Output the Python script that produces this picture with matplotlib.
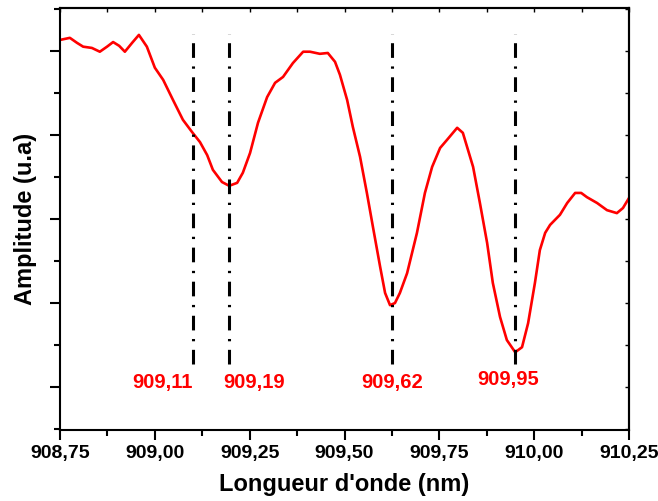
import matplotlib
matplotlib.use("Agg")
import matplotlib.pyplot as plt
from matplotlib.ticker import MultipleLocator, FuncFormatter

plt.rcParams['font.family'] = ['Liberation Sans', 'DejaVu Sans']
plt.rcParams['font.weight'] = 'bold'

# spectrum (wavelength nm, amplitude a.u.)
wavelength = [908.750, 908.776, 908.795, 908.811, 908.834, 908.855, 908.874, 908.890,
              908.906, 908.921, 908.940, 908.958, 908.979, 909.000, 909.022, 909.048,
              909.074, 909.098, 909.119, 909.138, 909.153, 909.177, 909.196, 909.217,
              909.232, 909.251, 909.272, 909.296, 909.317, 909.338, 909.364, 909.391,
              909.409, 909.435, 909.456, 909.475, 909.488, 909.507, 909.522, 909.541,
              909.559, 909.575, 909.594, 909.607, 909.620, 909.633, 909.646, 909.665,
              909.691, 909.712, 909.731, 909.752, 909.770, 909.797, 909.812, 909.839,
              909.857, 909.876, 909.891, 909.910, 909.928, 909.950, 909.968, 909.984,
              910.002, 910.015, 910.029, 910.042, 910.068, 910.087, 910.108, 910.124,
              910.139, 910.166, 910.192, 910.218, 910.234, 910.250]
amplitude = [0.826, 0.831, 0.819, 0.810, 0.807, 0.798, 0.810, 0.821,
             0.812, 0.798, 0.819, 0.838, 0.810, 0.760, 0.731, 0.683,
             0.636, 0.607, 0.583, 0.552, 0.517, 0.488, 0.479, 0.486,
             0.510, 0.557, 0.629, 0.690, 0.724, 0.738, 0.771, 0.798,
             0.798, 0.793, 0.795, 0.774, 0.743, 0.683, 0.619, 0.548,
             0.462, 0.381, 0.286, 0.224, 0.195, 0.200, 0.224, 0.271,
             0.367, 0.462, 0.524, 0.569, 0.588, 0.617, 0.605, 0.524,
             0.438, 0.343, 0.248, 0.167, 0.112, 0.083, 0.095, 0.152,
             0.248, 0.326, 0.367, 0.386, 0.410, 0.438, 0.462, 0.462,
             0.452, 0.438, 0.421, 0.414, 0.426, 0.450]

# marked minima
line_pos = [909.100, 909.195, 909.625, 909.950]
peak_labels = ["909,11", "909,19", "909,62", "909,95"]
label_x = [909.019, 909.261, 909.625, 909.931]
label_y = [0.010, 0.010, 0.010, 0.017]

fig = plt.figure(figsize=(6.58, 5.01), dpi=100)
ax = fig.add_axes([60/658, 1 - 430/501, 569/658, 422/501])

ax.plot(wavelength, amplitude, color='red', lw=1.9, solid_joinstyle='round',
        solid_capstyle='round')

for xp in line_pos:
    ax.plot([xp, xp], [0.055, 0.84], color='black', lw=2.2,
            dashes=(4.8, 2.8, 0.75, 2.8))

for lx, ly, t in zip(label_x, label_y, peak_labels):
    ax.text(lx, ly, t, color='red', fontsize=14.5, fontweight='bold',
            ha='center', va='center')

ax.set_xlim(908.75, 910.25)
ax.set_ylim(-0.102, 0.902)

ax.xaxis.set_major_locator(MultipleLocator(0.25))
ax.xaxis.set_minor_locator(MultipleLocator(0.125))
ax.xaxis.set_major_formatter(FuncFormatter(lambda v, p: f"{v:.2f}".replace('.', ',')))
ax.yaxis.set_major_locator(MultipleLocator(0.2))
ax.yaxis.set_minor_locator(MultipleLocator(0.1))
ax.set_yticklabels([])
ax.tick_params(axis='both', which='major', direction='out', length=7, width=1.5,
               labelsize=14, top=False, right=False)
ax.tick_params(axis='both', which='minor', direction='out', length=4, width=1.5,
               top=False, right=False)
for lab in ax.get_xticklabels():
    lab.set_fontweight('bold')

for sp in ax.spines.values():
    sp.set_linewidth(1.5)

# inward ticks on top and right, no labels
top = ax.secondary_xaxis('top')
top.xaxis.set_major_locator(MultipleLocator(0.25))
top.xaxis.set_minor_locator(MultipleLocator(0.125))
top.tick_params(which='both', direction='in', length=3, width=1, labeltop=False)
top.spines['top'].set_linewidth(1.5)
right = ax.secondary_yaxis('right')
right.yaxis.set_major_locator(MultipleLocator(0.2))
right.yaxis.set_minor_locator(MultipleLocator(0.1))
right.tick_params(which='both', direction='in', length=3, width=1, labelright=False)
right.spines['right'].set_linewidth(1.5)

ax.set_xlabel("Longueur d'onde (nm)", fontsize=17, fontweight='bold', labelpad=8)
ax.set_ylabel("Amplitude (u.a)", fontsize=17, fontweight='bold', labelpad=6)

fig.savefig("out.png", dpi=100)
